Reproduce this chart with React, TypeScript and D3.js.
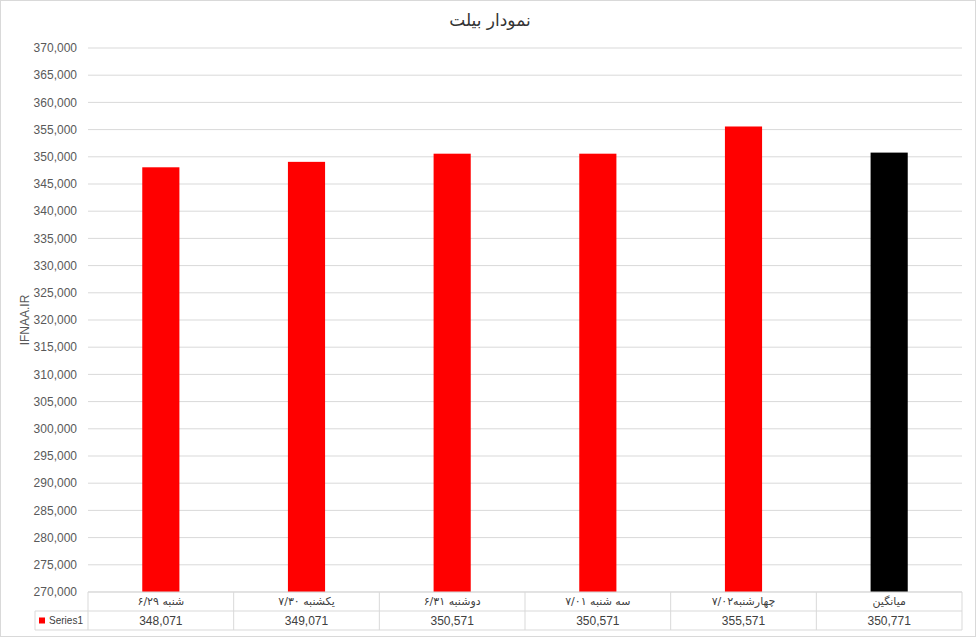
import * as d3 from 'd3'

const categories = ['شنبه ۶/۲۹', 'یکشنبه ۷/۳۰', 'دوشنبه ۶/۳۱', 'سه شنبه ۷/۰۱', 'چهارشنبه۷/۰۲', 'میانگین']
const values = [348071, 349071, 350571, 350571, 355571, 350771]
const barColors = ['#ff0000', '#ff0000', '#ff0000', '#ff0000', '#ff0000', '#000000']
const yTicks = d3.range(270000, 370001, 5000)

const W = 977
const H = 638
const plot = { left: 88, right: 962, top: 48, bottom: 592 }
const rowH = 19
const font = '"Liberation Sans", "DejaVu Sans", sans-serif'

export default function App() {
  const x = d3.scaleBand<string>()
    .domain(categories)
    .range([plot.left, plot.right])
    .paddingInner(0)
  const y = d3.scaleLinear()
    .domain([270000, 370000])
    .range([plot.bottom, plot.top])
  const fmt = d3.format(',')
  const barW = x.bandwidth() * 0.255
  const gridColor = '#d9d9d9'
  const row1 = plot.bottom + rowH
  const row2 = plot.bottom + rowH * 2

  return (
    <div style={{ position: 'absolute', left: 0, top: 0 }}>
      <svg width={W} height={H} style={{ display: 'block', fontFamily: font }}>
        <rect x={0.5} y={0.5} width={W - 2} height={H - 2} fill="#fff" stroke="#d9d9d9" />

        <text x={490} y={26} textAnchor="middle" fontSize={17} fill="#333"
          style={{ fontFamily: '"DejaVu Sans", serif' }} direction="rtl">
          نمودار بیلت
        </text>

        {/* gridlines and y labels */}
        {yTicks.map(t => (
          <g key={t}>
            <line x1={plot.left} x2={plot.right} y1={y(t)} y2={y(t)} stroke={gridColor} />
            <text x={77} y={y(t)} dy="0.35em" textAnchor="end" fontSize={12} fill="#595959">
              {fmt(t)}
            </text>
          </g>
        ))}

        <text transform={`translate(29,${(plot.top + plot.bottom) / 2}) rotate(-90)`}
          textAnchor="middle" fontSize={12} fill="#595959">
          IFNAA.IR
        </text>

        {/* bars */}
        {categories.map((c, i) => (
          <rect key={c}
            x={x(c)! + x.bandwidth() / 2 - barW / 2}
            y={y(values[i])}
            width={barW}
            height={plot.bottom - y(values[i])}
            fill={barColors[i]} />
        ))}

        {/* data table */}
        <line x1={plot.left} x2={plot.right} y1={plot.bottom} y2={plot.bottom} stroke={gridColor} />
        <line x1={35} x2={plot.right} y1={row1} y2={row1} stroke={gridColor} />
        <line x1={35} x2={plot.right} y1={row2} y2={row2} stroke={gridColor} />
        <line x1={35} x2={35} y1={row1} y2={row2} stroke={gridColor} />
        {categories.map(c => (
          <line key={'v' + c} x1={x(c)!} x2={x(c)!} y1={plot.bottom} y2={row2} stroke={gridColor} />
        ))}
        <line x1={plot.right} x2={plot.right} y1={plot.bottom} y2={row2} stroke={gridColor} />

        {categories.map((c, i) => (
          <g key={'t' + c}>
            <text x={x(c)! + x.bandwidth() / 2} y={plot.bottom + rowH / 2} dy="0.35em"
              textAnchor="middle" fontSize={11} fill="#404040" direction="rtl"
              style={{ fontFamily: '"DejaVu Sans", sans-serif' }}>
              {c}
            </text>
            <text x={x(c)! + x.bandwidth() / 2} y={row1 + rowH / 2} dy="0.35em"
              textAnchor="middle" fontSize={12} fill="#404040">
              {fmt(values[i])}
            </text>
          </g>
        ))}

        <rect x={39} y={row1 + rowH / 2 - 3} width={6} height={6} fill="#ff0000" />
        <text x={49} y={row1 + rowH / 2} dy="0.35em" fontSize={11} fill="#404040"
          textLength={34} lengthAdjust="spacingAndGlyphs">Series1</text>
      </svg>
    </div>
  )
}
